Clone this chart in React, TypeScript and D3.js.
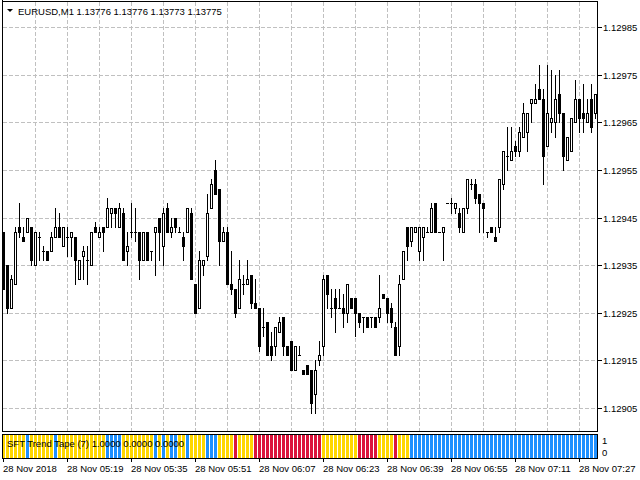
import React from 'react';
import * as d3 from 'd3';

const W = 640;
const H = 480;

const titleText = 'EURUSD,M1  1.13776 1.13776 1.13773 1.13775';
const indicatorText = 'SFT Trend Tape (7) 1.0000 0.0000 0.0000';

const open = [
  1.12942, 1.12935, 1.12926, 1.12931, 1.12943, 1.12941, 1.12942, 1.12943, 1.12935, 1.12941,
  1.12938, 1.12938, 1.12938, 1.12941, 1.12943, 1.12939, 1.12941, 1.12941, 1.12941, 1.12932,
  1.12937, 1.12936, 1.12935, 1.12943, 1.12941, 1.12943, 1.12943, 1.12946, 1.12947, 1.12943,
  1.12946, 1.12938, 1.12942, 1.12942, 1.12942, 1.12936, 1.12942, 1.12938, 1.12942, 1.12945,
  1.12939, 1.12947, 1.12942, 1.12945, 1.12942, 1.12941, 1.12942, 1.12946, 1.12931, 1.12926,
  1.12935, 1.12937, 1.12947, 1.12955, 1.12951, 1.12940, 1.12942, 1.12931, 1.12930, 1.12926,
  1.12931, 1.12931, 1.12933, 1.12927, 1.12926, 1.12922, 1.12923, 1.12918, 1.12918, 1.12921,
  1.12924, 1.12918, 1.12919, 1.12913, 1.12916, 1.12913, 1.12914, 1.12913, 1.12908, 1.12915,
  1.12918, 1.12933, 1.12926, 1.12928, 1.12926, 1.12926, 1.12925, 1.12928, 1.12928, 1.12925,
  1.12924, 1.12924, 1.12924, 1.12924, 1.12924, 1.12929, 1.12928, 1.12926, 1.12922, 1.12918,
  1.12932, 1.12943, 1.12940, 1.12942, 1.12938, 1.12941, 1.12942, 1.12942, 1.12948, 1.12942,
  1.12942, 1.12948, 1.12948, 1.12947, 1.12946, 1.12942, 1.12947, 1.12952, 1.12952, 1.12950,
  1.12948, 1.12942, 1.12943, 1.12941, 1.12943, 1.12952, 1.12958, 1.12957, 1.12960, 1.12959,
  1.12962, 1.12963, 1.12969, 1.12969, 1.12972, 1.12970, 1.12960, 1.12965, 1.12965, 1.12971,
  1.12967, 1.12957, 1.12959, 1.12965, 1.12970, 1.12967, 1.12965, 1.12970, 1.12967,
];
const high = [
  1.12942, 1.12935, 1.12933, 1.12943, 1.12948, 1.12943, 1.12945, 1.12943, 1.12942, 1.12942,
  1.12939, 1.12938, 1.12942, 1.12947, 1.12946, 1.12943, 1.12943, 1.12942, 1.12941, 1.12936,
  1.12939, 1.12939, 1.12942, 1.12944, 1.12943, 1.12943, 1.12949, 1.12947, 1.12947, 1.12948,
  1.12947, 1.12942, 1.12948, 1.12947, 1.12942, 1.12942, 1.12942, 1.12938, 1.12943, 1.12945,
  1.12947, 1.12948, 1.12945, 1.12945, 1.12943, 1.12942, 1.12947, 1.12947, 1.12931, 1.12938,
  1.12936, 1.12950, 1.12953, 1.12957, 1.12951, 1.12943, 1.12943, 1.12938, 1.12930, 1.12936,
  1.12933, 1.12936, 1.12933, 1.12932, 1.12926, 1.12926, 1.12923, 1.12921, 1.12922, 1.12924,
  1.12924, 1.12918, 1.12919, 1.12918, 1.12918, 1.12913, 1.12914, 1.12913, 1.12915, 1.12919,
  1.12933, 1.12933, 1.12930, 1.12930, 1.12930, 1.12929, 1.12931, 1.12928, 1.12928, 1.12925,
  1.12924, 1.12924, 1.12924, 1.12924, 1.12933, 1.12929, 1.12928, 1.12927, 1.12923, 1.12933,
  1.12938, 1.12943, 1.12943, 1.12943, 1.12943, 1.12943, 1.12943, 1.12948, 1.12948, 1.12942,
  1.12943, 1.12948, 1.12949, 1.12948, 1.12947, 1.12947, 1.12953, 1.12953, 1.12953, 1.12950,
  1.12948, 1.12942, 1.12943, 1.12943, 1.12953, 1.12959, 1.12964, 1.12964, 1.12961, 1.12964,
  1.12969, 1.12967, 1.12970, 1.12973, 1.12977, 1.12972, 1.12977, 1.12976, 1.12975, 1.12976,
  1.12967, 1.12962, 1.12966, 1.12974, 1.12970, 1.12973, 1.12970, 1.12973, 1.12971,
];
const low = [
  1.12930, 1.12925, 1.12926, 1.12931, 1.12941, 1.12940, 1.12942, 1.12935, 1.12935, 1.12936,
  1.12936, 1.12936, 1.12938, 1.12941, 1.12941, 1.12939, 1.12937, 1.12937, 1.12931, 1.12932,
  1.12932, 1.12931, 1.12935, 1.12942, 1.12941, 1.12938, 1.12943, 1.12943, 1.12943, 1.12943,
  1.12936, 1.12935, 1.12941, 1.12940, 1.12932, 1.12936, 1.12936, 1.12936, 1.12933, 1.12936,
  1.12935, 1.12942, 1.12941, 1.12942, 1.12942, 1.12936, 1.12942, 1.12932, 1.12925, 1.12926,
  1.12933, 1.12936, 1.12947, 1.12950, 1.12935, 1.12940, 1.12931, 1.12929, 1.12924, 1.12926,
  1.12929, 1.12931, 1.12926, 1.12926, 1.12917, 1.12920, 1.12916, 1.12915, 1.12916, 1.12921,
  1.12916, 1.12916, 1.12913, 1.12913, 1.12916, 1.12912, 1.12912, 1.12904, 1.12904, 1.12914,
  1.12916, 1.12926, 1.12924, 1.12921, 1.12926, 1.12922, 1.12923, 1.12926, 1.12920, 1.12922,
  1.12921, 1.12922, 1.12922, 1.12922, 1.12923, 1.12928, 1.12923, 1.12922, 1.12916, 1.12916,
  1.12932, 1.12936, 1.12939, 1.12942, 1.12936, 1.12936, 1.12942, 1.12942, 1.12942, 1.12942,
  1.12936, 1.12948, 1.12946, 1.12946, 1.12942, 1.12942, 1.12946, 1.12951, 1.12948, 1.12942,
  1.12942, 1.12941, 1.12942, 1.12940, 1.12942, 1.12951, 1.12955, 1.12957, 1.12958, 1.12958,
  1.12962, 1.12959, 1.12965, 1.12969, 1.12970, 1.12952, 1.12960, 1.12963, 1.12962, 1.12965,
  1.12955, 1.12957, 1.12959, 1.12965, 1.12963, 1.12963, 1.12965, 1.12963, 1.12966,
];
const close = [
  1.12930, 1.12926, 1.12932, 1.12942, 1.12942, 1.12940, 1.12945, 1.12936, 1.12942, 1.12941,
  1.12938, 1.12936, 1.12941, 1.12943, 1.12941, 1.12943, 1.12941, 1.12942, 1.12936, 1.12936,
  1.12938, 1.12936, 1.12942, 1.12942, 1.12942, 1.12942, 1.12947, 1.12947, 1.12946, 1.12947,
  1.12936, 1.12939, 1.12942, 1.12942, 1.12936, 1.12942, 1.12936, 1.12938, 1.12943, 1.12942,
  1.12946, 1.12942, 1.12943, 1.12943, 1.12942, 1.12939, 1.12947, 1.12932, 1.12925, 1.12936,
  1.12936, 1.12946, 1.12952, 1.12950, 1.12940, 1.12942, 1.12931, 1.12930, 1.12925, 1.12932,
  1.12931, 1.12932, 1.12927, 1.12926, 1.12918, 1.12922, 1.12916, 1.12916, 1.12922, 1.12923,
  1.12918, 1.12916, 1.12913, 1.12918, 1.12916, 1.12912, 1.12912, 1.12906, 1.12913, 1.12916,
  1.12932, 1.12929, 1.12926, 1.12926, 1.12926, 1.12925, 1.12931, 1.12926, 1.12925, 1.12923,
  1.12924, 1.12922, 1.12924, 1.12922, 1.12926, 1.12928, 1.12925, 1.12923, 1.12916, 1.12931,
  1.12938, 1.12939, 1.12943, 1.12943, 1.12943, 1.12943, 1.12942, 1.12947, 1.12942, 1.12942,
  1.12943, 1.12948, 1.12948, 1.12948, 1.12943, 1.12947, 1.12953, 1.12952, 1.12949, 1.12948,
  1.12947, 1.12942, 1.12942, 1.12940, 1.12953, 1.12959, 1.12958, 1.12959, 1.12959, 1.12963,
  1.12967, 1.12967, 1.12970, 1.12970, 1.12970, 1.12958, 1.12967, 1.12966, 1.12970, 1.12967,
  1.12958, 1.12962, 1.12966, 1.12970, 1.12966, 1.12966, 1.12967, 1.12964, 1.12971,
];

// Trend tape state per bar: Y = yellow (flat), B = blue (up), R = red (down)
const trend = [
  'Y','Y','Y','Y','Y','Y','B','Y','Y','Y','Y','Y','Y','B','Y','Y','Y','Y','Y','Y',
  'Y','Y','Y','Y','Y','Y','B','B','B','B','Y','Y','Y','Y','Y','Y','Y','Y','B','Y',
  'B','Y','B','B','Y','Y','B','Y','Y','Y','Y','B','B','B','Y','Y','Y','Y','R','Y',
  'Y','Y','Y','R','R','R','R','R','R','R','R','R','R','R','R','R','R','R','R','R',
  'Y','Y','Y','Y','Y','Y','Y','Y','Y','R','R','R','R','R','Y','Y','Y','Y','R','Y',
  'Y','Y','B','B','B','B','B','B','B','B','B','B','B','B','B','B','B','B','B','B',
  'B','B','B','B','B','B','B','B','B','B','B','B','B','B','B','B','B','B','B','B',
  'B','B','B','B','B','B','B','B','B',
];
const trendColors: Record<string, string> = { Y: '#FFD700', B: '#1E90FF', R: '#DC143C' };

const priceTicks = [1.12905, 1.12915, 1.12925, 1.12935, 1.12945, 1.12955, 1.12965, 1.12975, 1.12985];
const timeLabels = [
  '28 Nov 2018', '28 Nov 05:19', '28 Nov 05:35', '28 Nov 05:51', '28 Nov 06:07',
  '28 Nov 06:23', '28 Nov 06:39', '28 Nov 06:55', '28 Nov 07:11', '28 Nov 07:27',
];
const timeLabelBars = [0, 16, 32, 48, 64, 80, 96, 112, 128, 144];
const gridBarStep = 8;

const FONT = "'Liberation Sans', Arial, sans-serif";

export default function App() {
  const n = open.length;
  const left = 2;
  const right = 597;
  const top = 1;
  const mainBottom = 431;
  const indTop = 434;
  const indBottom = 458;

  const x = d3.scaleLinear().domain([0, n - 1]).range([3, 3 + 4 * (n - 1)]);
  const y = d3.scaleLinear().domain([1.12905, 1.12985]).range([408.3, 27.7]);
  const row = (p: number) => Math.floor(y(p));

  const gridXs: number[] = [];
  for (let i = gridBarStep; i < n; i += gridBarStep) gridXs.push(x(i));

  const candles = d3.range(n).map((i) => {
    const cx = x(i);
    const o = open[i], c = close[i], h = high[i], l = low[i];
    const bodyTop = row(Math.max(o, c));
    const bodyBot = row(Math.min(o, c));
    const wickTop = row(h);
    const wickBot = row(l);
    const bull = c > o;
    const doji = bodyTop === bodyBot;
    return (
      <g key={i}>
        {wickBot > wickTop && (
          <line x1={cx + 0.5} x2={cx + 0.5} y1={wickTop} y2={wickBot + 1} stroke="#000" strokeWidth={1} shapeRendering="crispEdges" />
        )}
        {doji ? (
          <line x1={cx - 1} x2={cx + 2} y1={bodyTop + 0.5} y2={bodyTop + 0.5} stroke="#000" strokeWidth={1} shapeRendering="crispEdges" />
        ) : bull ? (
          <rect x={cx - 0.5} y={bodyTop + 0.5} width={2} height={bodyBot - bodyTop} fill="#fff" stroke="#000" strokeWidth={1} shapeRendering="crispEdges" />
        ) : (
          <rect x={cx - 1} y={bodyTop} width={3} height={bodyBot - bodyTop + 1} fill="#000" shapeRendering="crispEdges" />
        )}
      </g>
    );
  });

  return (
    <svg width={W} height={H} viewBox={`0 0 ${W} ${H}`} style={{ display: 'block', position: 'absolute', left: 0, top: 0, background: '#fff' }}>
      <rect x={0} y={0} width={W} height={H} fill="#fff" />
      {/* grid */}
      <g stroke="#C0C0C0" strokeWidth={1} strokeDasharray="4,2" shapeRendering="crispEdges">
        {priceTicks.map((p) => (
          <line key={p} x1={left + 1} x2={right} y1={row(p) + 0.5} y2={row(p) + 0.5} />
        ))}
        {gridXs.map((gx) => (
          <line key={gx} x1={gx + 0.5} x2={gx + 0.5} y1={top + 1} y2={mainBottom} />
        ))}
      </g>
      {/* candles */}
      {candles}
      {/* main frame */}
      <g stroke="#000" strokeWidth={1} shapeRendering="crispEdges" fill="none">
        <line x1={left + 0.5} x2={left + 0.5} y1={0} y2={mainBottom + 1} />
        <line x1={right + 0.5} x2={right + 0.5} y1={top} y2={mainBottom + 1} />
        <line x1={left} x2={right + 1} y1={top + 0.5} y2={top + 0.5} />
        <line x1={left} x2={right + 1} y1={mainBottom + 0.5} y2={mainBottom + 0.5} />
        {gridXs.map((gx) => (
          <line key={'t' + gx} x1={gx + 0.5} x2={gx + 0.5} y1={mainBottom - 3} y2={mainBottom} stroke="#C0C0C0" />
        ))}
        {priceTicks.map((p) => (
          <line key={'pt' + p} x1={right + 1} x2={right + 5} y1={row(p) + 0.5} y2={row(p) + 0.5} />
        ))}
      </g>
      {/* price labels */}
      <g fontFamily={FONT} fontSize={9.5} fill="#000">
        {priceTicks.map((p) => (
          <text key={'pl' + p} x={603} y={row(p) + 4}>{p.toFixed(5)}</text>
        ))}
      </g>
      {/* title */}
      <path d="M7,9 L13,9 L10,12 Z" fill="#000" />
      <text x={18} y={15} fontFamily={FONT} fontSize={9.5} fill="#000">{titleText}</text>

      {/* indicator tape */}
      <g shapeRendering="crispEdges">
        {d3.range(n).map((i) => (
          <rect key={'tp' + i} x={x(i) - 1} y={indTop + 1} width={3} height={indBottom - indTop - 1} fill={trendColors[trend[i]]} />
        ))}
      </g>
      <g stroke="#000" strokeWidth={1} shapeRendering="crispEdges" fill="none">
        <line x1={left + 0.5} x2={left + 0.5} y1={indTop} y2={indBottom + 1} />
        <line x1={right + 0.5} x2={right + 0.5} y1={indTop} y2={indBottom + 1} />
        <line x1={left} x2={right + 1} y1={indTop + 0.5} y2={indTop + 0.5} />
        <line x1={left} x2={right + 1} y1={indBottom + 0.5} y2={indBottom + 0.5} />
        {timeLabelBars.map((b) => (
          <line key={'tt' + b} x1={x(b) + 0.5} x2={x(b) + 0.5} y1={indBottom + 1} y2={indBottom + 4} />
        ))}
      </g>
      <text x={7} y={447} fontFamily={FONT} fontSize={9.5} fill="#000">{indicatorText}</text>
      <g fontFamily={FONT} fontSize={9.5} fill="#000">
        <text x={602} y={444}>1</text>
        <text x={602} y={456}>0</text>
      </g>
      {/* time labels */}
      <g fontFamily={FONT} fontSize={9.5} fill="#000">
        {timeLabels.map((t, k) => (
          <text key={t} x={x(timeLabelBars[k])} y={472}>{t}</text>
        ))}
      </g>
    </svg>
  );
}
